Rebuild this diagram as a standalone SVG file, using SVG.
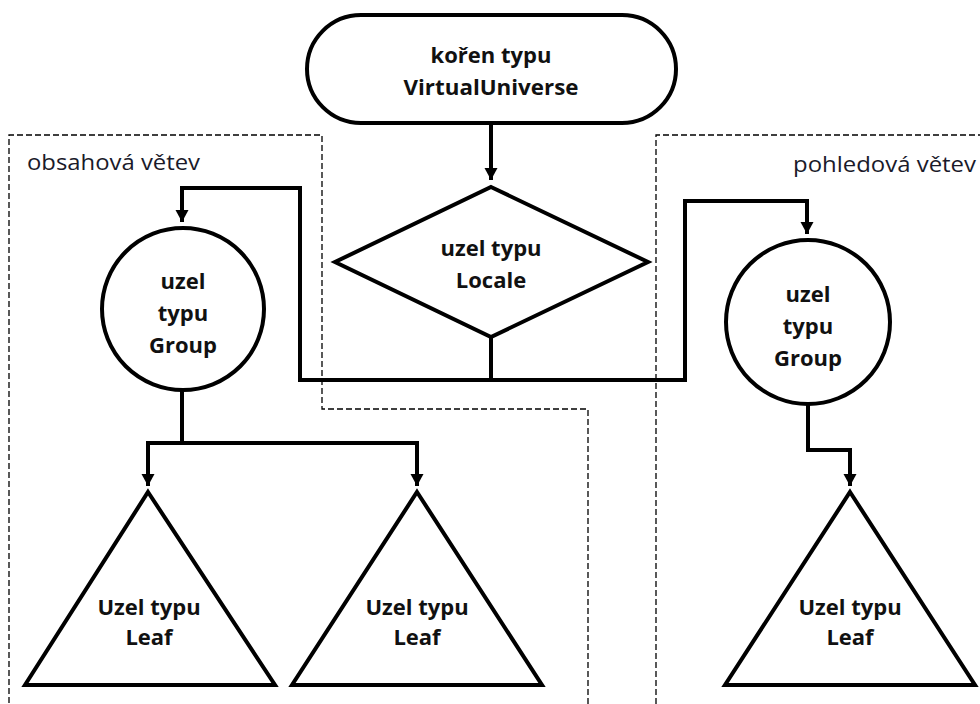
<svg xmlns="http://www.w3.org/2000/svg" width="980" height="704" viewBox="0 0 980 704">
  <style>
    .shape { fill: #fff; stroke: #000; stroke-width: 4; stroke-linejoin: miter; }
    .wire { fill: none; stroke: #000; stroke-width: 4; stroke-linejoin: miter; }
    .zone { fill: none; stroke: #000; stroke-width: 1.3; stroke-dasharray: 6 3; }
    .lbl { font-family: "Open Sans", "Liberation Sans", sans-serif; font-weight: bold; font-size: 22px; fill: #111; text-anchor: middle; }
    .zlbl { font-family: "Open Sans", "Liberation Sans", sans-serif; font-size: 22px; fill: #1a1a2a; }
  </style>
  <defs>
    <marker id="arrow" markerUnits="userSpaceOnUse" markerWidth="14" markerHeight="14" viewBox="0 0 14 14" refX="7" refY="13" orient="0">
      <path d="M0.5,1 L13.5,1 L7,13 Z" fill="#000"/>
    </marker>
  </defs>

  <!-- branch zones -->
  <g id="zones">
    <path class="zone" d="M588,704 V409 H322 V135 H9 V704"/>
    <path class="zone" d="M656,704 V135 H980"/>
    <text class="zlbl" x="27" y="170" textLength="173" lengthAdjust="spacingAndGlyphs">obsahová větev</text>
    <text class="zlbl" x="976" y="172" text-anchor="end" textLength="183" lengthAdjust="spacingAndGlyphs">pohledová větev</text>
  </g>

  <!-- connectors -->
  <g id="connectors">
    <path class="wire" d="M491,123 V180" marker-end="url(#arrow)"/>
    <path class="wire" d="M491,337 V380 H300 V188 H182 V222" marker-end="url(#arrow)"/>
    <path class="wire" d="M491,380 H685 V201 H807 V234" marker-end="url(#arrow)"/>
    <path class="wire" d="M182,390 V443 H148 V486" marker-end="url(#arrow)"/>
    <path class="wire" d="M182,443 H417 V486" marker-end="url(#arrow)"/>
    <path class="wire" d="M808,404 V450 H850 V486" marker-end="url(#arrow)"/>
  </g>

  <g id="root">
    <rect class="shape" x="307" y="15" width="369" height="108" rx="54"/>
    <text class="lbl" x="491" y="63">kořen typu</text>
    <text class="lbl" x="491" y="95" textLength="175" lengthAdjust="spacingAndGlyphs">VirtualUniverse</text>
  </g>

  <g id="locale">
    <polygon class="shape" points="491,187 648,262 491,337 335,262"/>
    <text class="lbl" x="491" y="256">uzel typu</text>
    <text class="lbl" x="491" y="288">Locale</text>
  </g>

  <g id="group-content">
    <circle class="shape" cx="183" cy="309" r="81"/>
    <text class="lbl" x="183" y="289">uzel</text>
    <text class="lbl" x="183" y="321">typu</text>
    <text class="lbl" x="183" y="353">Group</text>
  </g>

  <g id="group-view">
    <circle class="shape" cx="808" cy="322" r="82"/>
    <text class="lbl" x="808" y="302">uzel</text>
    <text class="lbl" x="808" y="334">typu</text>
    <text class="lbl" x="808" y="366">Group</text>
  </g>

  <g id="leaf-1">
    <polygon class="shape" points="148,492 275,685 25,685"/>
    <text class="lbl" x="149" y="615">Uzel typu</text>
    <text class="lbl" x="149" y="645">Leaf</text>
  </g>

  <g id="leaf-2">
    <polygon class="shape" points="417,492 542,685 292,685"/>
    <text class="lbl" x="417" y="615">Uzel typu</text>
    <text class="lbl" x="417" y="645">Leaf</text>
  </g>

  <g id="leaf-3">
    <polygon class="shape" points="850,492 975,685 725,685"/>
    <text class="lbl" x="850" y="615">Uzel typu</text>
    <text class="lbl" x="850" y="645">Leaf</text>
  </g>
</svg>
